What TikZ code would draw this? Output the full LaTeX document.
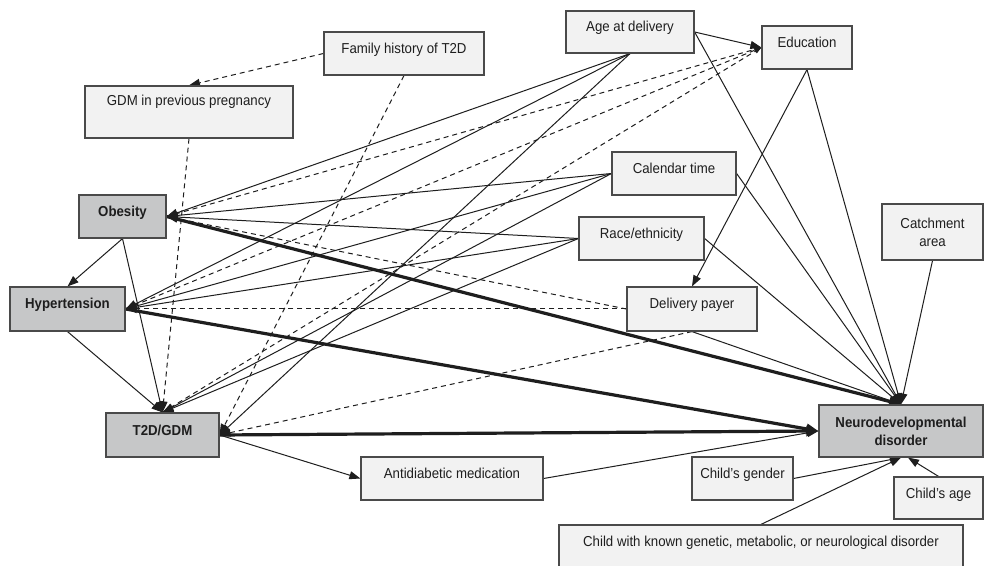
\documentclass[tikz,border=0pt]{standalone}
\usepackage{fontspec}
\setmainfont{Liberation Sans}[FakeStretch=0.92]
\usetikzlibrary{arrows.meta}
\definecolor{lbox}{HTML}{F2F2F2}
\definecolor{dbox}{HTML}{C6C7C8}
\definecolor{bord}{HTML}{4A4A4A}
\definecolor{ink}{HTML}{1E1E1E}
\pgfdeclarelayer{bg}
\pgfsetlayers{bg,main}
\begin{document}
\begin{tikzpicture}[x=0.5pt,y=-0.5pt,
  box/.style={draw=bord, line width=0.6pt, fill=lbox, inner sep=0pt, text=ink,
    font=\fontsize{7.2}{9}\selectfont, align=center},
  one/.style={text height=5pt, text depth=5pt},
  ex/.style={box, fill=dbox, font=\fontsize{7.2}{9}\selectfont\bfseries},
  ar/.style={draw=ink, line width=0.5pt, -{Triangle[length=5.5pt,width=4pt]}},
  dsh/.style={ar, dash pattern=on 2.5pt off 2pt},
  dshs/.style={draw=ink, line width=0.5pt, dash pattern=on 2.5pt off 2pt, -{Triangle[length=3.5pt,width=2.5pt]}},
  thk/.style={draw=ink, line width=1.6pt, -{Triangle[length=6pt,width=5pt]}}
]
\useasboundingbox (0,0) rectangle (984,566);

% nodes
\node[box,one,minimum width=80pt,minimum height=21.5pt] (fam) at (404,53.5) {Family history of T2D};
\node[box,one,minimum width=104pt,minimum height=26pt,text depth=11pt] (gdmprev) at (189,112) {GDM in previous pregnancy};
\node[box,one,minimum width=64pt,minimum height=21pt] (age) at (630,32) {Age at delivery};
\node[box,one,minimum width=45pt,minimum height=21.5pt] (edu) at (807,47.5) {Education};
\node[box,one,minimum width=62pt,minimum height=21.5pt] (cal) at (674,173.5) {Calendar time};
\node[ex,one,minimum width=43.5pt,minimum height=21.5pt] (obes) at (122.5,216.5) {Obesity};
\node[ex,one,minimum width=57.5pt,minimum height=22pt] (hyp) at (67.5,309) {Hypertension};
\node[box,one,minimum width=62.5pt,minimum height=21.5pt] (race) at (641.5,238.5) {Race/ethnicity};
\node[box,one,minimum width=65pt,minimum height=22pt] (pay) at (692,309) {Delivery payer};
\node[box,minimum width=50.5pt,minimum height=28pt] (catch) at (932.5,232) {Catchment\\area};
\node[ex,one,minimum width=56.5pt,minimum height=22pt] (t2d) at (162.5,435) {T2D/GDM};
\node[box,one,minimum width=91pt,minimum height=21.5pt] (anti) at (452,478.5) {Antidiabetic medication};
\node[ex,minimum width=82pt,minimum height=26pt] (nd) at (901,431) {Neurodevelopmental\\disorder};
\node[box,one,minimum width=50.5pt,minimum height=21.5pt] (gender) at (742.5,478.5) {Child’s gender};
\node[box,one,minimum width=44.5pt,minimum height=21pt] (cage) at (938.5,498) {Child’s age};
\node[box,one,minimum width=202pt,minimum height=21.5pt] (known) at (761,546.5) {Child with known genetic, metabolic, or neurological disorder};

\begin{pgfonlayer}{bg}
\fill[white] (0,0) rectangle (984,566);
% family history and previous GDM
\draw[dsh] (fam.west) -- (gdmprev.north);
\draw[dsh] (fam.south) -- (t2d.east);
\draw[dsh] (gdmprev.south) -- (t2d.north);
% age at delivery
\draw[ar] (age.east) -- (edu.west);
\draw[ar] (age.south) -- (obes.east);
\draw[ar] (age.south) -- (hyp.east);
\draw[ar] (age.south) -- (t2d.east);
\draw[ar] (age.east) -- (nd.north);
% education
\draw[dshs] (obes.east) -- (edu.west);
\draw[dshs] (hyp.east) -- (edu.west);
\draw[dshs] (t2d.north) -- (edu.west);
\draw[ar] (edu.south) -- (pay.north);
\draw[ar] (edu.south) -- (nd.north);
% calendar time
\draw[ar] (cal.west) -- (obes.east);
\draw[ar] (cal.west) -- (hyp.east);
\draw[ar] (cal.west) -- (t2d.north);
\draw[ar] (cal.east) -- (nd.north);
% race
\draw[ar] (race.west) -- (obes.east);
\draw[ar] (race.west) -- (hyp.east);
\draw[ar] (race.west) -- (t2d.north);
\draw[ar] (race.east) -- (nd.north);
% delivery payer
\draw[dsh] (pay.west) -- (obes.east);
\draw[dsh] (pay.west) -- (hyp.east);
\draw[dsh] (pay.south) -- (t2d.east);
\draw[ar] (pay.south) -- (nd.north);
% catchment
\draw[ar] (catch.south) -- (nd.north);
% exposures
\draw[ar] (obes.south) -- (hyp.north);
\draw[ar] (obes.south) -- (t2d.north);
\draw[ar] (hyp.south) -- (t2d.north);
\draw[thk] (obes.east) -- (nd.north);
\draw[thk] (hyp.east) -- (nd.west);
\draw[thk] (t2d.east) -- (nd.west);
\draw[ar] (t2d.east) -- (anti.west);
\draw[ar] (anti.east) -- (nd.west);
% child factors
\draw[ar] (gender.east) -- (nd.south);
\draw[ar] (known.north) -- (nd.south);
\draw[ar] (cage.north) -- ([xshift=3.5pt]nd.south);
\end{pgfonlayer}
\end{tikzpicture}
\end{document}
